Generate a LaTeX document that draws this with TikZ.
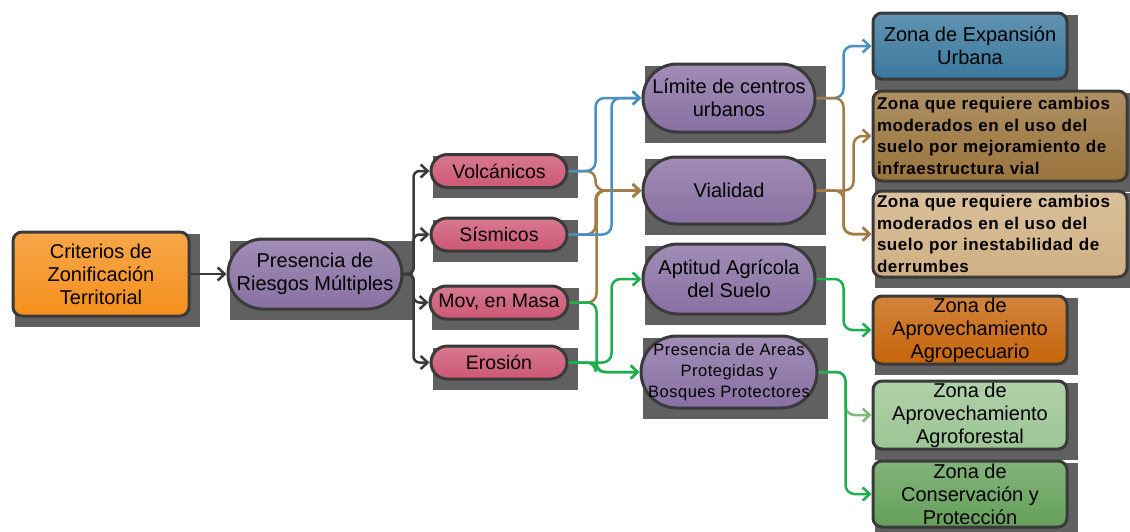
\documentclass[tikz,border=0pt]{standalone}
\usepackage{fontspec}
\setmainfont{Liberation Sans}
\newfontfamily\spacedfont[LetterSpace=3]{Liberation Sans}
\usetikzlibrary{shapes.misc,arrows.meta,backgrounds}
\definecolor{edgegray}{HTML}{3A3A3A}
\definecolor{shadowgray}{HTML}{606060}
\definecolor{critorange}{HTML}{F5901C}
\definecolor{riskpurple}{HTML}{8970A3}
\definecolor{hazardpink}{HTML}{CD5774}
\definecolor{expanblue}{HTML}{3A789E}
\definecolor{vialbrown}{HTML}{9A743C}
\definecolor{derrtan}{HTML}{D0B083}
\definecolor{agropcol}{HTML}{C6650A}
\definecolor{agrofcol}{HTML}{9CC594}
\definecolor{conscol}{HTML}{64A05A}
\definecolor{blueline}{HTML}{4A8FC1}
\definecolor{brownline}{HTML}{A27B45}
\definecolor{greenline}{HTML}{1DAF4E}
\definecolor{lgreenline}{HTML}{7DBA7B}

\begin{document}
\begin{tikzpicture}[x=1pt,y=-1pt,
  >={Straight Barb[length=7pt,width=13pt]},
  every node/.style={text=black,align=center,inner sep=2pt},
  pill/.style={rounded rectangle,draw=edgegray,line width=3pt,top color=#1!80!white,bottom color=#1},
  zone/.style={rectangle,rounded corners=9pt,draw=edgegray,line width=3pt,top color=#1!80!white,bottom color=#1},
  big/.style={font=\fontsize{20}{23}\selectfont},
  boldtxt/.style={font=\fontsize{17}{21.5}\spacedfont\bfseries,align=left,text width=246,inner sep=3pt},
  link/.style={->,line width=2.5pt,rounded corners=9pt,draw=#1}]
\useasboundingbox (0,0) rectangle (1130,531);

\node[zone=critorange,big,minimum width=176,minimum height=84] (crit) at (101,274) {Criterios de\\Zonificación\\Territorial};
\node[pill=riskpurple,big,minimum width=178,minimum height=70] (riesgos) at (315,274) {Presencia de\\Riesgos Múltiples};

\node[pill=hazardpink,font=\fontsize{19.5}{22}\selectfont,minimum width=140,minimum height=33] (volc) at (499,171) {Volcánicos};
\node[pill=hazardpink,font=\fontsize{19.5}{22}\selectfont,minimum width=140,minimum height=33] (sism) at (499,234.5) {Sísmicos};
\node[pill=hazardpink,font=\fontsize{19.5}{22}\selectfont,minimum width=140,minimum height=33,inner sep=1pt] (mov) at (499,302.5) {Mov, en Masa};
\node[pill=hazardpink,font=\fontsize{19.5}{22}\selectfont,minimum width=140,minimum height=33] (eros) at (499,362.5) {Erosión};

\node[pill=riskpurple,big,minimum width=176,minimum height=68] (limite) at (729,98) {Límite de centros\\urbanos};
\node[pill=riskpurple,big,minimum width=176,minimum height=67] (vial) at (729,190.5) {Vialidad};
\node[pill=riskpurple,big,minimum width=176,minimum height=70] (apt) at (729,279) {Aptitud Agrícola\\del Suelo};
\node[pill=riskpurple,font=\fontsize{16.5}{21}\spacedfont,minimum width=176,minimum height=72,inner sep=0pt] (areas) at (729,372) {\makebox[110pt]{\begin{tabular}{@{}c@{}}Presencia de Areas\\Protegidas y\\Bosques Protectores\end{tabular}}};

\node[zone=expanblue,big,minimum width=194,minimum height=66] (expan) at (970,46) {Zona de Expansión\\Urbana};
\node[zone=vialbrown,boldtxt,minimum width=254,minimum height=90] (vialz) at (1000,136) {Zona que requiere cambios\\moderados en el uso del\\suelo por mejoramiento de\\infraestructura vial};
\node[zone=derrtan,boldtxt,minimum width=254,minimum height=86] (derr) at (1000,234) {Zona que requiere cambios\\moderados en el uso del\\suelo por inestabilidad de\\derrumbes};
\node[zone=agropcol,big,minimum width=194,minimum height=68,inner sep=0pt] (agrop) at (970,330) {Zona de\\Aprovechamiento\\Agropecuario};
\node[zone=agrofcol,big,minimum width=194,minimum height=68,inner sep=0pt] (agrof) at (970,415) {Zona de\\Aprovechamiento\\Agroforestal};
\node[zone=conscol,big,minimum width=194,minimum height=66,inner sep=0pt] (cons) at (970,494) {Zona de\\Conservación y\\Protección};

\begin{scope}[on background layer]
\foreach \n in {crit,riesgos,volc,sism,mov,eros,limite,vial,apt,areas,expan,vialz,derr,agrop,agrof,cons}
  \fill[shadowgray] ([shift={(3,3)}]\n.north -| \n.west) rectangle ([shift={(9,9)}]\n.south -| \n.east);
\end{scope}

\draw[link=edgegray] (crit) -- (riesgos);
\foreach \h in {volc,sism,mov,eros}
  \draw[link=edgegray,rounded corners=6pt] (riesgos.east) -- +(10,0) |- (\h.west);

\draw[link=brownline] (volc.east) -- +(27,0) |- (vial.west);
\draw[link=brownline] (sism.east) -- +(27,0) |- (vial.west);
\draw[link=brownline] (mov.east) -- +(27,0) |- (vial.west);
\draw[link=blueline] (volc.east) -- +(27,0) |- (limite.west);
\draw[link=blueline] (sism.east) -- +(43,0) |- (limite.west);
\draw[link=greenline] (mov.east) -- +(27,0) |- (areas.west);
\draw[link=greenline] (eros.east) -- +(27,0) |- (areas.west);
\draw[link=greenline] (eros.east) -- +(43,0) |- (apt.west);

\draw[link=blueline] (limite.east) -- +(27,0) |- (expan.west);
\draw[link=brownline] (limite.east) -- +(27,0) |- (derr.west);
\draw[link=brownline] (vial.east) -- +(37,0) |- (vialz.west);
\draw[link=brownline] (vial.east) -- +(27,0) |- (derr.west);
\draw[link=greenline] (apt.east) -- +(27,0) |- (agrop.west);
\draw[link=lgreenline] (areas.east) -- +(27,0) |- (agrof.west);
\draw[link=greenline] (areas.east) -- +(27,0) |- (cons.west);
\end{tikzpicture}
\end{document}
